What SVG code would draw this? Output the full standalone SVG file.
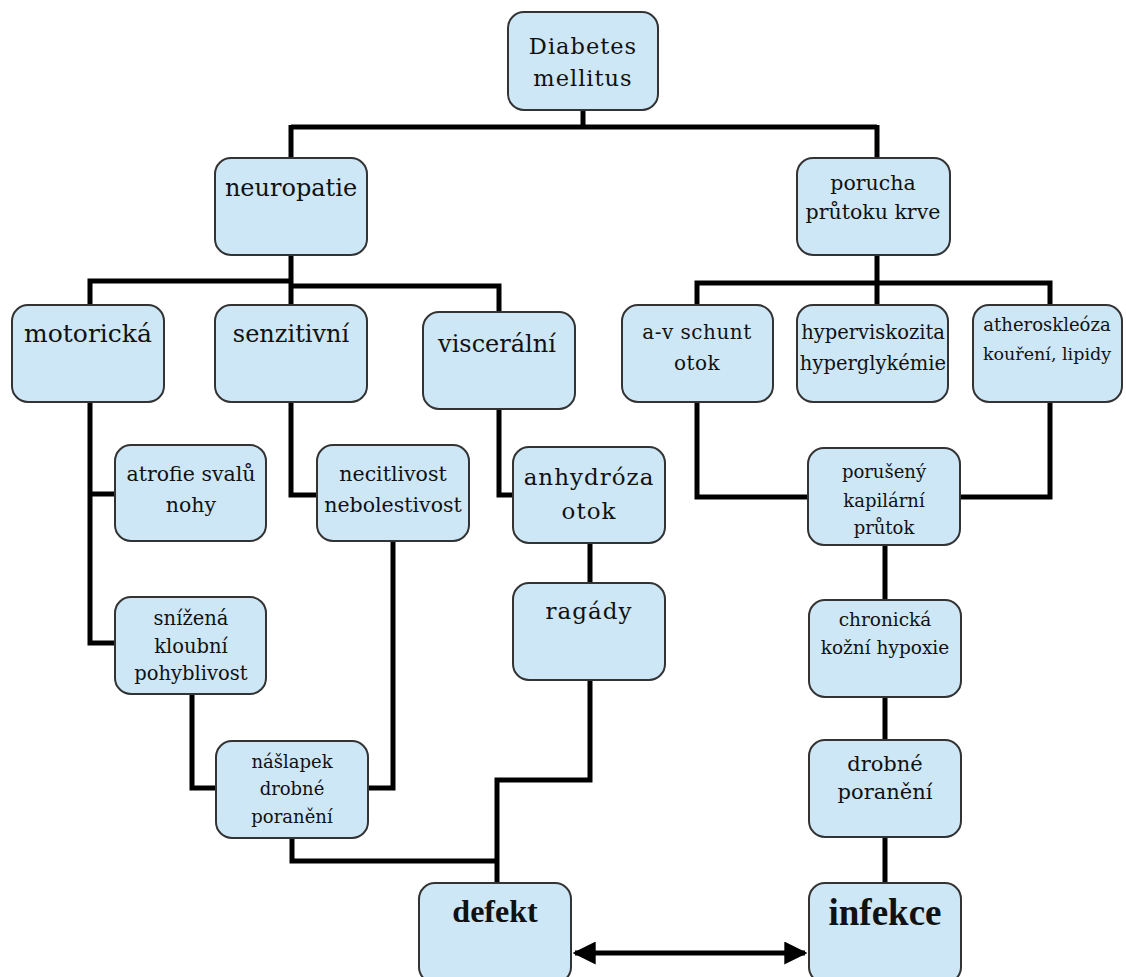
<svg xmlns="http://www.w3.org/2000/svg" width="1126" height="977" viewBox="0 0 1126 977">
<defs>
<style>
.box{fill:#cde7f7;stroke:#333;stroke-width:2}
.t{font-family:"DejaVu Serif","Liberation Serif",serif;fill:#111;text-anchor:middle}
.b{font-family:"Liberation Serif","DejaVu Serif",serif;font-weight:bold;fill:#111;text-anchor:middle}
.c{fill:none;stroke:#000;stroke-width:5}
</style>
<marker id="ah" viewBox="0 0 10 10" refX="9" refY="5" markerWidth="4.6" markerHeight="4.6" markerUnits="strokeWidth" orient="auto-start-reverse">
<path d="M0,0 L10,5 L0,10 z" fill="#000"/>
</marker>
</defs>
<rect width="1126" height="977" fill="#fff"/>
<g id="connectors">
<path class="c" d="M583,110 V127 M291,127 H877 M291,125 V158 M877,125 V158"/>
<path class="c" d="M291,255 V305 M90,305 V281 H291 M291,286 H499 V312"/>
<path class="c" d="M90,402 V643 H115 M90,494 H115"/>
<path class="c" d="M291,402 V495 H317"/>
<path class="c" d="M499,409 V495 H513"/>
<path class="c" d="M590,543 V583"/>
<path class="c" d="M590,680 V780 H497 V883"/>
<path class="c" d="M192,694 V788 H216"/>
<path class="c" d="M393,541 V788 H368"/>
<path class="c" d="M292,838 V861 H497"/>
<path class="c" d="M877,255 V305 M697,305 V283 H1050 V305"/>
<path class="c" d="M697,402 V497 H808 M960,497 H1050 V402"/>
<path class="c" d="M885,545 V600 M885,697 V740 M885,837 V883"/>
<path class="c" d="M575,953 H805" marker-start="url(#ah)" marker-end="url(#ah)"/>
</g>
<g id="n-diabetes"><rect class="box" x="508" y="12" width="150" height="98" rx="16"/><text class="t" x="583" y="54" font-size="22.5" letter-spacing="1">Diabetes</text><text class="t" x="583" y="86" font-size="22.5" letter-spacing="1">mellitus</text></g>
<g id="n-neuropatie"><rect class="box" x="215" y="158" width="152" height="97" rx="16"/><text class="t" x="291" y="196" font-size="24">neuropatie</text></g>
<g id="n-porucha"><rect class="box" x="797" y="158" width="153" height="97" rx="16"/><text class="t" x="873" y="190" font-size="20.5">porucha</text><text class="t" x="873" y="219" font-size="20.5">průtoku krve</text></g>
<g id="n-motoricka"><rect class="box" x="12" y="305" width="152" height="97" rx="16"/><text class="t" x="88" y="342" font-size="25">motorická</text></g>
<g id="n-senzitivni"><rect class="box" x="215" y="305" width="152" height="97" rx="16"/><text class="t" x="291" y="342" font-size="24">senzitivní</text></g>
<g id="n-visceralni"><rect class="box" x="423" y="312" width="152" height="97" rx="16"/><text class="t" x="497" y="352" font-size="24">viscerální</text></g>
<g id="n-avschunt"><rect class="box" x="622" y="305" width="151" height="97" rx="16"/><text class="t" x="697" y="339" font-size="20" letter-spacing="0.5">a-v schunt</text><text class="t" x="697" y="370" font-size="20" letter-spacing="0.5">otok</text></g>
<g id="n-hyperviskozita"><rect class="box" x="797" y="305" width="151" height="97" rx="16"/><text class="t" x="873" y="339" font-size="19.5">hyperviskozita</text><text class="t" x="873" y="370" font-size="19.5">hyperglykémie</text></g>
<g id="n-atheroskleoza"><rect class="box" x="973" y="305" width="149" height="97" rx="16"/><text class="t" x="1047" y="331" font-size="18">atheroskleóza</text><text class="t" x="1047" y="360" font-size="17.5">kouření, lipidy</text></g>
<g id="n-atrofie"><rect class="box" x="115" y="445" width="151" height="96" rx="16"/><text class="t" x="191" y="481" font-size="20.5">atrofie svalů</text><text class="t" x="191" y="512" font-size="20.5">nohy</text></g>
<g id="n-necitlivost"><rect class="box" x="317" y="445" width="152" height="96" rx="16"/><text class="t" x="393" y="481" font-size="20.5">necitlivost</text><text class="t" x="393" y="512" font-size="20.5">nebolestivost</text></g>
<g id="n-anhydroza"><rect class="box" x="513" y="447" width="152" height="96" rx="16"/><text class="t" x="589" y="485" font-size="23" letter-spacing="1">anhydróza</text><text class="t" x="589" y="519" font-size="23" letter-spacing="1">otok</text></g>
<g id="n-poruseny"><rect class="box" x="808" y="448" width="152" height="97" rx="16"/><text class="t" x="884" y="478" font-size="18">porušený</text><text class="t" x="884" y="507" font-size="18">kapilární</text><text class="t" x="884" y="534" font-size="18">průtok</text></g>
<g id="n-ragady"><rect class="box" x="513" y="583" width="152" height="97" rx="16"/><text class="t" x="589" y="619" font-size="23" letter-spacing="1">ragády</text></g>
<g id="n-snizena"><rect class="box" x="115" y="597" width="151" height="97" rx="16"/><text class="t" x="191" y="625" font-size="19.5">snížená</text><text class="t" x="191" y="653" font-size="19.5">kloubní</text><text class="t" x="191" y="680" font-size="19.5">pohyblivost</text></g>
<g id="n-chronicka"><rect class="box" x="809" y="600" width="152" height="97" rx="16"/><text class="t" x="885" y="626" font-size="18.5">chronická</text><text class="t" x="885" y="654" font-size="18.5">kožní hypoxie</text></g>
<g id="n-naslapek"><rect class="box" x="216" y="741" width="152" height="97" rx="16"/><text class="t" x="292" y="768" font-size="18">nášlapek</text><text class="t" x="292" y="795" font-size="18">drobné</text><text class="t" x="292" y="823" font-size="18">poranění</text></g>
<g id="n-drobne"><rect class="box" x="809" y="740" width="152" height="97" rx="16"/><text class="t" x="885" y="771" font-size="21">drobné</text><text class="t" x="885" y="799" font-size="21">poranění</text></g>
<g id="n-defekt"><rect class="box" x="419" y="883" width="152" height="100" rx="16"/><text class="b" x="495" y="922" font-size="32">defekt</text></g>
<g id="n-infekce"><rect class="box" x="809" y="883" width="152" height="100" rx="16"/><text class="b" x="885" y="925" font-size="37">infekce</text></g>
</svg>
